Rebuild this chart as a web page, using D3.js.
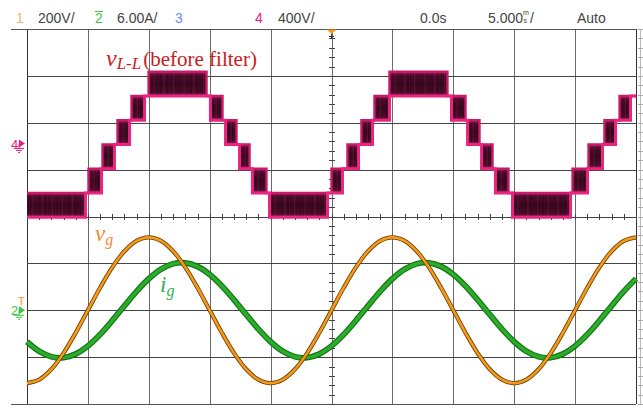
<!DOCTYPE html>
<html><head><meta charset="utf-8">
<script src="https://cdn.jsdelivr.net/npm/d3@7"></script>
<style>body{margin:0;background:#fff}svg{display:block}</style>
</head><body><svg id="c" width="643" height="409"></svg>
<script>
// ---- data (time in ms, 5 ms/div) ----
const timeMs = [-25,-24,-23,-22,-21,-20,-19,-18,-17,-16,-15,-14,-13,-12,-11,-10,-9,-8,-7,-6,-5,-4,-3,-2,-1,0,1,2,3,4,5,6,7,8,9,10,11,12,13,14,15,16,17,18,19,20,21,22,23,24,25];
// grid voltage v_g (V), channel 1, 200 V/div
const vg = [-311,-296,-252,-183,-96,0,96,183,252,296,311,296,252,183,96,0,-96,-183,-252,-296,-311,-296,-252,-183,-96,0,96,183,252,296,311,296,252,183,96,0,-96,-183,-252,-296,-311,-296,-252,-183,-96,0,96,183,252,296,311];
// grid current i_g (A), channel 2, 6 A/div
const ig = [-4.03,-5.25,-5.95,-6.07,-5.60,-4.58,-3.11,-1.33,0.57,2.42,4.03,5.25,5.95,6.07,5.60,4.58,3.11,1.33,-0.57,-2.42,-4.03,-5.25,-5.95,-6.07,-5.60,-4.58,-3.11,-1.33,0.57,2.42,4.03,5.25,5.95,6.07,5.60,4.58,3.11,1.33,-0.57,-2.42,-4.03,-5.25,-5.95,-6.07,-5.60,-4.58,-3.11,-1.33,0.57,2.42,4.03];
// line-to-line voltage v_L-L (V), channel 4, 400 V/div : PWM between two levels in each segment
const vllTime = [-25,-20.2,-19.95,-18.88,-18.8,-17.82,-17.57,-16.58,-16.42,-15.35,-15.02,-10.26,-9.94,-8.95,-8.7,-7.8,-7.55,-6.73,-6.49,-5.34,-5.09,-0.33,0,0.9,1.31,2.22,2.46,3.37,3.53,4.76,9.52,9.85,11.0,11.17,12.15,12.32,13.22,13.46,14.53,14.86,19.62,19.79,21.02,21.1,22.25,22.41,23.32,23.65,24.55,25];
const vllLow  = [-621,-414,-414,-207,-207,0,0,207,207,414,414,414,207,207,0,0,-207,-207,-414,-414,-621,-414,-414,-207,-207,0,0,207,207,414,414,207,207,0,0,-207,-207,-414,-414,-621,-414,-414,-207,-207,0,0,207,207,414];
const vllHigh = [-414,-414,-207,-207,0,0,207,207,414,414,621,414,414,207,207,0,0,-207,-207,-414,-414,-414,-207,-207,0,0,207,207,414,621,414,414,207,207,0,0,-207,-207,-414,-414,-414,-207,-207,0,0,207,207,414,414];
const gridTime = [-25,-20,-15,-10,-5,0,5,10,15,20,25];
const gridDiv = [-4,-3,-2,-1,0,1,2,3,4];
const chNum = ["1","2","3","4"];
const chScale = ["200V/","6.00A/","","400V/"];

// ---- layout ----
const L=27,R=636,T=29,B=404;
const svg=d3.select('#c');
const x=d3.scaleLinear().domain([-25,25]).range([L,R]);
const yDiv=d3.scaleLinear().domain([-4,4]).range([B,T]);
const y1=d3.scaleLinear().domain([-400,1200]).range([B,T]);   // 200 V/div, zero 2 div below centre
const y2=d3.scaleLinear().domain([-12,36]).range([B,T]);      // 6 A/div, zero 2 div below centre
const y4=d3.scaleLinear().domain([-2214,986]).range([B,T]);   // 400 V/div

const defs=svg.append('defs');
const g1=defs.append('linearGradient').attr('id','band').attr('x1',0).attr('y1',0).attr('x2',0).attr('y2',1);
[[0,'#a81a5a'],[0.15,'#520d30'],[0.5,'#3a0920'],[0.85,'#4e0e2c'],[1,'#b81c62']].forEach(s=>g1.append('stop').attr('offset',s[0]).attr('stop-color',s[1]));

// ---- grid ----
const grid=svg.append('g').attr('stroke-width',1.1).attr('shape-rendering','crispEdges');
gridTime.forEach(t=>grid.append('line').attr('x1',Math.round(x(t))+0.5).attr('x2',Math.round(x(t))+0.5).attr('y1',T).attr('y2',B).attr('stroke',(t===-25||t===25)?'#333':'#6a6a6a'));
gridDiv.forEach(k=>{const yy=Math.round(yDiv(k))+0.5;grid.append('line').attr('x1',(k===4||k===-4)?11:L).attr('x2',R).attr('y1',yy).attr('y2',yy).attr('stroke',(k===4||k===-4)?'#555':'#444');});
// minor ticks on centre axes
const tk=svg.append('g').attr('stroke','#444').attr('stroke-width',1).attr('shape-rendering','crispEdges');
d3.range(-25,25.01,1).forEach(t=>{const xx=Math.round(x(t))+0.5;tk.append('line').attr('x1',xx).attr('x2',xx).attr('y1',yDiv(0)-2.5).attr('y2',yDiv(0)+3);});
d3.range(-4,4.01,0.2).forEach(k=>{const yy=Math.round(yDiv(k))+0.5;tk.append('line').attr('x1',x(0)-2.5).attr('x2',x(0)+3).attr('y1',yy).attr('y2',yy);});
// right edge scale bar
svg.append('line').attr('x1',640.5).attr('x2',640.5).attr('y1',T).attr('y2',B).attr('stroke','#bbb');
d3.range(-4,4.01,0.2).forEach(k=>{const yy=Math.round(yDiv(k))+0.5;svg.append('line').attr('x1',638).attr('x2',643).attr('y1',yy).attr('y2',yy).attr('stroke','#aaa');});

// ---- v_L-L ----
const segs=vllLow.map((lo,i)=>({t0:vllTime[i],t1:vllTime[i+1],lo,hi:vllHigh[i]}));
const bandG=svg.append('g');
segs.filter(s=>s.hi>s.lo).forEach(s=>{
  bandG.append('rect').attr('x',x(s.t0)).attr('width',x(s.t1)-x(s.t0)).attr('y',y4(s.hi)).attr('height',y4(s.lo)-y4(s.hi)).attr('fill','url(#band)');
  const n=Math.floor((x(s.t1)-x(s.t0))/2);
  for(let j=0;j<n;j++){const xx=x(s.t0)+1+j*2+((j*7)%3)*0.4;
    bandG.append('line').attr('x1',xx).attr('x2',xx).attr('y1',y4(s.hi)+2).attr('y2',y4(s.lo)-2).attr('stroke',(j%5===2)?'#8a1a4c':'#28050f').attr('stroke-width',0.7).attr('opacity',0.55);}
});
const upPts=segs.map(s=>[s.t0,s.hi]).concat([[25,vllHigh[vllHigh.length-1]]]);
const loPts=segs.map(s=>[s.t0,s.lo]).concat([[25,vllLow[vllLow.length-1]]]);
const stepLine=d3.line().x(d=>x(d[0])).curve(d3.curveStepAfter);
svg.append('path').attr('d',stepLine.y(d=>y4(d[1]))(upPts)).attr('fill','none').attr('stroke','#c81a68').attr('stroke-width',2.4);
svg.append('path').attr('d',stepLine.y(d=>y4(d[1]))(loPts)).attr('fill','none').attr('stroke','#e8267f').attr('stroke-width',3);

// ---- i_g ----
const lineIg=d3.line().x((d,i)=>x(timeMs[i])).y(d=>y2(d)).curve(d3.curveCatmullRom);
svg.append('path').attr('d',lineIg(ig)).attr('fill','none').attr('stroke','#157515').attr('stroke-width',5.8);
svg.append('path').attr('d',lineIg(ig)).attr('fill','none').attr('stroke','#2aad2a').attr('stroke-width',3.4);
// ---- v_g ----
const lineVg=d3.line().x((d,i)=>x(timeMs[i])).y(d=>y1(d)).curve(d3.curveCatmullRom);
svg.append('path').attr('d',lineVg(vg)).attr('fill','none').attr('stroke','#6b3d00').attr('stroke-width',4.2);
svg.append('path').attr('d',lineVg(vg)).attr('fill','none').attr('stroke','#f39a1c').attr('stroke-width',2.6);

// ---- header ----
const hf="'Liberation Sans',Arial,sans-serif";
const hdr=svg.append('g').attr('font-family',hf).attr('font-size',14).attr('fill','#444');
const chCol=['#f7b46a','#4cc24c','#6f8ff0','#e8208a'];
const chX=[16,95,175,255], scX=[38,117,0,278];
chNum.forEach((c,i)=>{hdr.append('text').attr('x',chX[i]).attr('y',23).attr('fill',chCol[i]).text(c);
  if(chScale[i]) hdr.append('text').attr('x',scX[i]).attr('y',23).text(chScale[i]);});
svg.append('line').attr('x1',95).attr('x2',103).attr('y1',11.5).attr('y2',11.5).attr('stroke',chCol[1]).attr('stroke-width',1);
hdr.append('text').attr('x',420).attr('y',23).text('0.0s');
hdr.append('text').attr('x',488).attr('y',23).text('5.000');
hdr.append('text').attr('x',523).attr('y',15).attr('font-size',7).text('m');
hdr.append('text').attr('x',523.5).attr('y',23).attr('font-size',7).text('s');
hdr.append('text').attr('x',530).attr('y',23).text('/');
hdr.append('text').attr('x',577).attr('y',23).text('Auto');
// trigger marker
svg.append('path').attr('d',`M${x(0)-5},${T+0.5}L${x(0)+5},${T+0.5}L${x(0)},${T+5}Z`).attr('fill','#f39a1c');
svg.append('path').attr('d',`M${x(0)-2.5},${T+7.5}H${x(0)+2.5}M${x(0)},${T+5}V${T+10}`).attr('stroke','#333').attr('stroke-width',1);
// left channel markers
function marker(yy,num,col){
  svg.append('text').attr('x',11).attr('y',yy+5).attr('font-family',hf).attr('font-size',13).attr('fill',col).text(num);
  svg.append('path').attr('d',`M19,${yy-4}L25,${yy}L19,${yy+4}Z`).attr('fill',col);
  svg.append('path').attr('d',`M19,${yy}V${yy+5}M14,${yy+5}H24M16,${yy+7}H22M18,${yy+9}H20`).attr('stroke',col).attr('stroke-width',1);
}
marker(y4(0)-1,'4','#e8207a');
marker(y2(0),'2','#3cc23c');
svg.append('text').attr('x',18).attr('y',305).attr('font-family',hf).attr('font-size',11).attr('fill','#f39a1c').text('T');
// bottom status line (cut off by the window edge, as in the screenshot)
svg.append('text').attr('x',14).attr('y',418).attr('font-family',hf).attr('font-size',13).attr('fill','#555').text('Channel 1 Probe Menu    500:1');

// ---- annotations ----
const sf="'Liberation Serif','Times New Roman',serif";
const a1=svg.append('text').attr('x',106).attr('y',66).attr('font-family',sf).attr('fill','#cc1b1b');
a1.append('tspan').attr('font-style','italic').attr('font-size',24).text('v');
a1.append('tspan').attr('font-style','italic').attr('font-size',17).attr('dy',3).text('L-L');
a1.append('tspan').attr('font-size',21).attr('dy',-3).attr('dx',2).text('(before filter)');
const a2=svg.append('text').attr('x',95).attr('y',241).attr('font-family',sf).attr('font-style','italic').attr('fill','#f0883a');
a2.append('tspan').attr('font-size',23).text('v');
a2.append('tspan').attr('font-size',16).attr('dy',4).text('g');
const a3=svg.append('text').attr('x',160).attr('y',292).attr('font-family',sf).attr('font-style','italic').attr('fill','#2bb058');
a3.append('tspan').attr('font-size',23).text('i');
a3.append('tspan').attr('font-size',16).attr('dy',4).text('g');
</script></body></html>
